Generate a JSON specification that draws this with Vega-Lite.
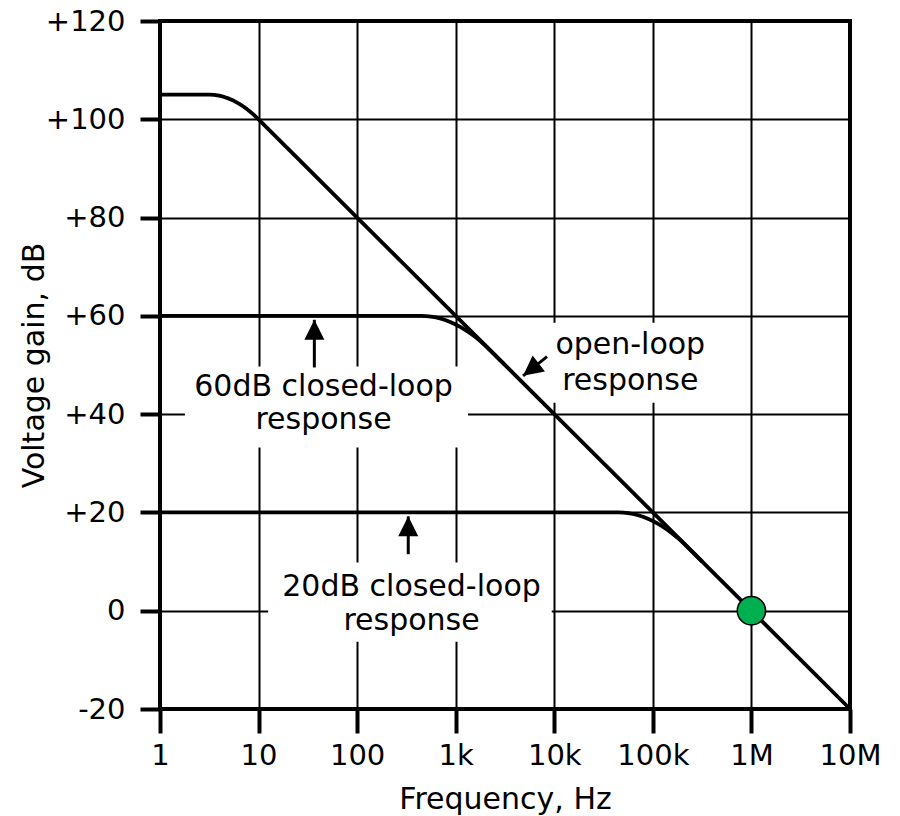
{
  "$schema": "https://vega.github.io/schema/vega-lite/v6.json",
  "width": 690,
  "height": 688,
  "autosize": {"type": "none"},
  "padding": {"left": 160, "top": 21, "right": 50, "bottom": 107},
  "background": "white",
  "config": {
    "view": {"stroke": "black", "strokeWidth": 4},
    "font": "DejaVu Sans",
    "axis": {
      "domain": false,
      "grid": true,
      "gridColor": "black",
      "gridWidth": 2,
      "gridOpacity": 1,
      "tickColor": "black",
      "tickWidth": 4,
      "labelColor": "black",
      "titleColor": "black",
      "labelFont": "DejaVu Sans",
      "titleFont": "DejaVu Sans",
      "labelFontSize": 29,
      "titleFontSize": 30,
      "titleFontWeight": "normal"
    }
  },
  "datasets": {
    "curves": [
      {"series": "open-loop", "f": 1, "db": 105},
      {"series": "open-loop", "f": 2, "db": 105},
      {"series": "open-loop", "f": 3.16, "db": 105},
      {"series": "open-loop", "f": 3.55, "db": 104.95},
      {"series": "open-loop", "f": 3.98, "db": 104.8},
      {"series": "open-loop", "f": 4.47, "db": 104.55},
      {"series": "open-loop", "f": 5.01, "db": 104.2},
      {"series": "open-loop", "f": 5.62, "db": 103.75},
      {"series": "open-loop", "f": 6.31, "db": 103.2},
      {"series": "open-loop", "f": 7.08, "db": 102.55},
      {"series": "open-loop", "f": 7.94, "db": 101.8},
      {"series": "open-loop", "f": 8.91, "db": 100.95},
      {"series": "open-loop", "f": 10, "db": 100},
      {"series": "open-loop", "f": 100, "db": 80},
      {"series": "open-loop", "f": 1000, "db": 60},
      {"series": "open-loop", "f": 10000, "db": 40},
      {"series": "open-loop", "f": 100000, "db": 20},
      {"series": "open-loop", "f": 1000000, "db": 0},
      {"series": "open-loop", "f": 10000000, "db": -20},
      {"series": "60dB closed-loop", "f": 1, "db": 60},
      {"series": "60dB closed-loop", "f": 100, "db": 60},
      {"series": "60dB closed-loop", "f": 447, "db": 60},
      {"series": "60dB closed-loop", "f": 501, "db": 59.96},
      {"series": "60dB closed-loop", "f": 562, "db": 59.86},
      {"series": "60dB closed-loop", "f": 631, "db": 59.68},
      {"series": "60dB closed-loop", "f": 708, "db": 59.43},
      {"series": "60dB closed-loop", "f": 794, "db": 59.11},
      {"series": "60dB closed-loop", "f": 891, "db": 58.71},
      {"series": "60dB closed-loop", "f": 1000, "db": 58.25},
      {"series": "60dB closed-loop", "f": 1122, "db": 57.71},
      {"series": "60dB closed-loop", "f": 1259, "db": 57.11},
      {"series": "60dB closed-loop", "f": 1413, "db": 56.43},
      {"series": "60dB closed-loop", "f": 1585, "db": 55.68},
      {"series": "60dB closed-loop", "f": 1778, "db": 54.86},
      {"series": "60dB closed-loop", "f": 1995, "db": 53.96},
      {"series": "60dB closed-loop", "f": 2239, "db": 53.0},
      {"series": "60dB closed-loop", "f": 3162, "db": 50.0},
      {"series": "20dB closed-loop", "f": 1, "db": 20},
      {"series": "20dB closed-loop", "f": 10000, "db": 20},
      {"series": "20dB closed-loop", "f": 44668, "db": 20},
      {"series": "20dB closed-loop", "f": 50119, "db": 19.96},
      {"series": "20dB closed-loop", "f": 56234, "db": 19.86},
      {"series": "20dB closed-loop", "f": 63096, "db": 19.68},
      {"series": "20dB closed-loop", "f": 70795, "db": 19.43},
      {"series": "20dB closed-loop", "f": 79433, "db": 19.11},
      {"series": "20dB closed-loop", "f": 89125, "db": 18.71},
      {"series": "20dB closed-loop", "f": 100000, "db": 18.25},
      {"series": "20dB closed-loop", "f": 112202, "db": 17.71},
      {"series": "20dB closed-loop", "f": 125893, "db": 17.11},
      {"series": "20dB closed-loop", "f": 141254, "db": 16.43},
      {"series": "20dB closed-loop", "f": 158489, "db": 15.68},
      {"series": "20dB closed-loop", "f": 177828, "db": 14.86},
      {"series": "20dB closed-loop", "f": 199526, "db": 13.96},
      {"series": "20dB closed-loop", "f": 223872, "db": 13.0},
      {"series": "20dB closed-loop", "f": 316228, "db": 10.0}
    ],
    "boxes": [
      {"f": 1.79, "f2": 1334, "db": 33.2, "db2": 49.7},
      {"f": 12.5, "f2": 9420, "db": -6.3, "db2": 9.8},
      {"f": 8100, "f2": 380000, "db": 42.3, "db2": 58.6}
    ],
    "arrows": [
      {"f": 36.8, "db": 49.5, "f2": 36.8, "db2": 59.2},
      {"f": 330, "db": 11.5, "f2": 330, "db2": 19.2},
      {"f": 8440, "db": 51.7, "f2": 4820, "db2": 47.8}
    ],
    "heads": [
      {"f": 36.8, "db": 59.2, "dir": "up"},
      {"f": 330, "db": 19.2, "dir": "up"},
      {"f": 4820, "db": 47.8, "dir": "down-left"}
    ],
    "labels": [
      {"label": "60dB closed-loop", "f": 45.6, "db": 43.75},
      {"label": "response", "f": 45.6, "db": 37.0},
      {"label": "20dB closed-loop", "f": 356, "db": 2.9},
      {"label": "response", "f": 356, "db": -3.9},
      {"label": "open-loop", "f": 59000, "db": 52.3},
      {"label": "response", "f": 59000, "db": 45.0}
    ],
    "marker": [
      {"f": 1000000, "db": 0}
    ]
  },
  "encoding": {
    "x": {
      "field": "f",
      "type": "quantitative",
      "scale": {"type": "log", "domain": [1, 10000000], "nice": false},
      "axis": {
        "title": "Frequency, Hz",
        "values": [1, 10, 100, 1000, 10000, 100000, 1000000, 10000000],
        "labelExpr": "datum.value >= 1000000 ? (datum.value / 1000000) + 'M' : datum.value >= 1000 ? (datum.value / 1000) + 'k' : '' + datum.value",
        "tickSize": 24,
        "labelPadding": 8,
        "titleBaseline": "alphabetic",
        "titlePadding": 38,
        "labelFlush": false,
        "labelOverlap": false
      }
    },
    "y": {
      "field": "db",
      "type": "quantitative",
      "scale": {"domain": [-20, 120], "nice": false, "zero": false},
      "axis": {
        "title": "Voltage gain, dB",
        "values": [-20, 0, 20, 40, 60, 80, 100, 120],
        "labelExpr": "datum.value > 0 ? '+' + datum.value : '' + datum.value",
        "tickSize": 20,
        "labelPadding": 15,
        "titleBaseline": "alphabetic",
        "titlePadding": 2,
        "labelFlush": false,
        "labelOverlap": false
      }
    }
  },
  "layer": [
    {
      "data": {"name": "boxes"},
      "mark": {"type": "rect", "fill": "white", "stroke": null},
      "encoding": {
        "x2": {"field": "f2"},
        "y2": {"field": "db2"}
      }
    },
    {
      "data": {"name": "curves"},
      "mark": {"type": "line", "color": "black", "strokeWidth": 3.8, "interpolate": "linear", "strokeJoin": "round"},
      "encoding": {
        "detail": {"field": "series", "type": "nominal"}
      }
    },
    {
      "data": {"name": "arrows"},
      "mark": {"type": "rule", "color": "black", "strokeWidth": 3},
      "encoding": {
        "x2": {"field": "f2"},
        "y2": {"field": "db2"}
      }
    },
    {
      "data": {"name": "heads"},
      "mark": {"type": "point", "shape": "M0,0L-1,2L1,2Z", "filled": true, "color": "black", "opacity": 1, "size": 400, "strokeWidth": 0},
      "encoding": {
        "angle": {"field": "dir", "type": "nominal", "scale": {"domain": ["up", "down-left"], "range": [0, 232]}, "legend": null}
      }
    },
    {
      "data": {"name": "labels"},
      "mark": {"type": "text", "font": "DejaVu Sans", "fontSize": 30, "color": "black", "align": "center", "baseline": "alphabetic"},
      "encoding": {
        "text": {"field": "label", "type": "nominal"}
      }
    },
    {
      "data": {"name": "marker"},
      "mark": {"type": "circle", "fill": "#00b050", "stroke": "black", "strokeWidth": 1.5, "size": 804, "opacity": 1, "fillOpacity": 1}
    }
  ]
}
